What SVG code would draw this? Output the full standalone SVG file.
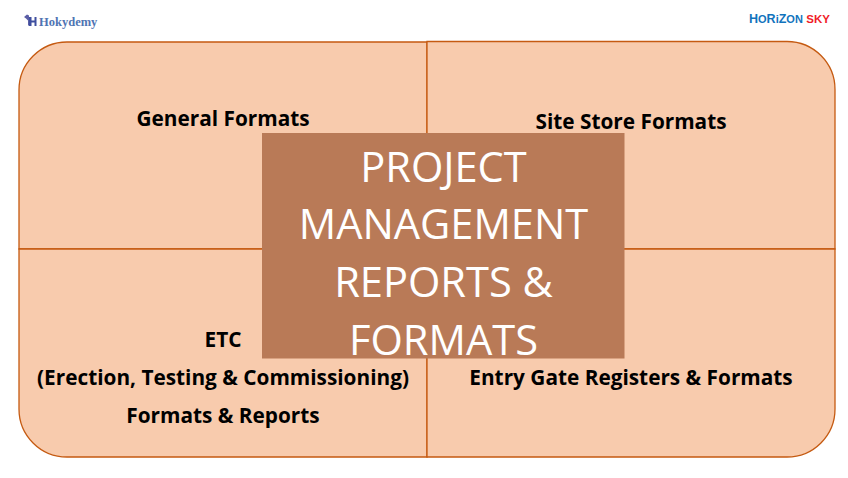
<svg xmlns="http://www.w3.org/2000/svg" width="848" height="478" viewBox="0 0 848 478">
<style>
.q{fill:#f8cbad;stroke:#c55a11;stroke-width:1.3}
.l{font:bold 20.8px "Open Sans","Noto Sans",sans-serif;fill:#000;text-anchor:middle}
.t{font:41.6px "Open Sans","Noto Sans",sans-serif;fill:#fff;text-anchor:middle}
</style>
<rect width="848" height="478" fill="#fff"/>
<g id="logo-hokydemy">
<path d="M24 17l3-2.500 2 1v3l1 1v6h-2v-5l-2-2z" fill="#5b5ea6"/>
<path d="M29 17h2.500v3.500h3V17h2v9h-2v-3.500h-3V26h-2.500z" fill="#3f4f9f"/>
<text x="39" y="26" font-family="'Liberation Serif',serif" font-weight="bold" font-size="12.500" fill="#4f74b3">Hokydemy</text>
</g>
<g id="logo-horizon">
<text x="749" y="22.500" font-family="'Liberation Sans',sans-serif" font-weight="bold" font-size="12.500" fill="#1173bd">H<tspan font-size="11">O</tspan>R<tspan font-size="11">i</tspan>Z<tspan font-size="11">ON</tspan> <tspan fill="#f01c28" font-size="11.500">SKY</tspan></text>
</g>
<g id="quadrant-general">
<path class="q" d="M427 42H67a48 48 0 0 0-48 48V249H427z"/>
<text class="l" x="223" y="126">General Formats</text>
</g>
<g id="quadrant-site-store">
<path class="q" d="M427 41.500H787a48 48 0 0 1 48 48V249H427z"/>
<text class="l" x="631" y="129">Site Store Formats</text>
</g>
<g id="quadrant-etc">
<path class="q" d="M427 249H19V409a48 48 0 0 0 48 48H427z"/>
<text class="l" x="223" y="347">ETC</text>
<text class="l" x="223" y="385">(Erection, Testing &amp; Commissioning)</text>
<text class="l" x="223" y="423">Formats &amp; Reports</text>
</g>
<g id="quadrant-entry-gate">
<path class="q" d="M427 249H835V409a48 48 0 0 1-48 48H427z"/>
<text class="l" x="631" y="385">Entry Gate Registers &amp; Formats</text>
</g>
<g id="center">
<rect x="262" y="133" width="362.500" height="225.500" fill="#b97a57"/>
<text class="t" x="443.500" y="182">PROJECT</text>
<text class="t" x="443.500" y="239">MANAGEMENT</text>
<text class="t" x="443.500" y="297">REPORTS &amp;</text>
<text class="t" x="443.500" y="355">FORMATS</text>
</g>
<g id="connectors"></g>
</svg>
